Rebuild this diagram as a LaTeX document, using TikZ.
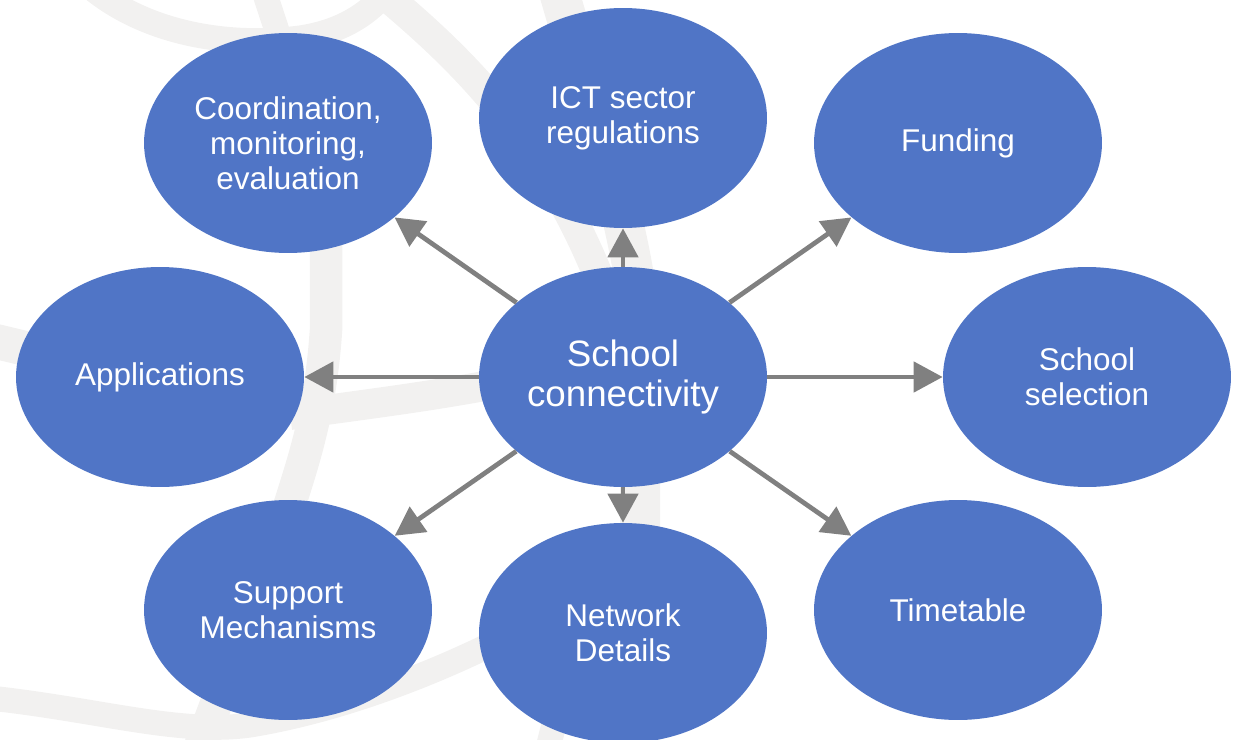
\documentclass[tikz,border=0pt]{standalone}
\usepackage{fontspec}
\setmainfont{Liberation Sans}
\usetikzlibrary{shapes.geometric,arrows.meta}

\definecolor{bubbleblue}{RGB}{80,117,198}
\definecolor{linkgray}{RGB}{128,128,128}
\definecolor{mapgray}{RGB}{242,241,240}

\begin{document}
\begin{tikzpicture}[x=0.02cm, y=-0.02cm,
    bubble/.style={ellipse, fill=bubbleblue, text=white, inner sep=0pt,
        minimum width=5.76cm, minimum height=4.4cm, align=center,
        font=\fontsize{17.9}{19.8}\selectfont},
    hub/.style={bubble, font=\fontsize{20.9}{22.7}\selectfont},
    link/.style={draw=linkgray, line width=2.7pt,
        -{Triangle[length=0.58cm, width=0.6cm]}},
    road/.style={draw=mapgray, line width=0.6cm}]
    \useasboundingbox (0,0) rectangle (1237,740);

    % faint map lines in the back
    \draw[road, line width=0.5cm] (88,-15) .. controls (140,30) and (220,48) .. (300,38)
        .. controls (340,32) and (370,15) .. (392,-15);
    \draw[road, line width=0.5cm] (262,-15) -- (280,40);
    \draw[road] (385,-5) .. controls (450,50) and (540,130) .. (600,280);
    \draw[road, line width=0.8cm] (557,-15) .. controls (590,100) and (630,220) .. (640,320) -- (640,760);
    \draw[road, line width=0.65cm] (326,240) -- (326,330)
        .. controls (320,420) and (300,470) .. (285,520) -- (195,760);
    \draw[road] (290,415) .. controls (360,405) and (420,398) .. (490,385);
    \draw[road, line width=0.7cm] (-10,340) -- (40,352);
    \draw[road, line width=0.5cm] (-10,698) .. controls (100,710) and (180,735) .. (250,725)
        .. controls (330,712) and (420,680) .. (500,640);
    \draw[road, line width=0.5cm] (560,700) -- (545,760);

    % hub and topics
    \node[hub] (school) at (623,377) {School\\connectivity};
    \node[bubble] (coord) at (288,143) {Coordination,\\monitoring,\\evaluation};
    \node[bubble] (ict) at (623,118) {ICT sector\\regulations};
    \node[bubble] (fund) at (958,143) {Funding};
    \node[bubble] (apps) at (160,377) {Applications};
    \node[bubble] (select) at (1087,377) {School\\selection};
    \node[bubble] (support) at (288,610) {Support\\Mechanisms};
    \node[bubble] (network) at (623,633) {Network\\Details};
    \node[bubble] (time) at (958,610) {Timetable};

    % arrows out of the hub
    \draw[link] (school) -- (coord);
    \draw[link] (school) -- (ict);
    \draw[link] (school) -- (fund);
    \draw[link] (school) -- (apps);
    \draw[link] (school) -- (select);
    \draw[link] (school) -- (support);
    \draw[link] (school) -- (network);
    \draw[link] (school) -- (time);
\end{tikzpicture}
\end{document}
